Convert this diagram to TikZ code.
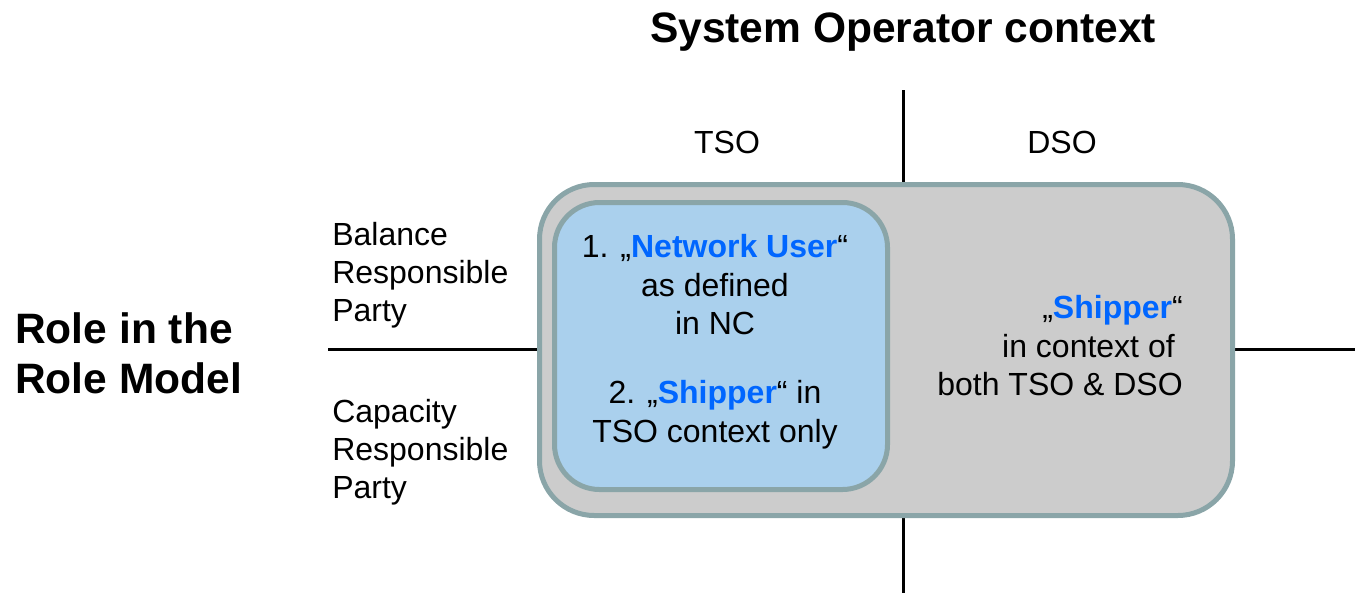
\documentclass[tikz,border=0pt]{standalone}
\usepackage{fontspec}
\setmainfont{Liberation Sans}
\definecolor{boxedge}{RGB}{138,165,168}
\definecolor{outerfill}{RGB}{204,204,204}
\definecolor{innerfill}{RGB}{170,208,237}
\definecolor{hl}{RGB}{0,102,255}
\tikzset{
  txt/.style={font=\fontsize{24}{28.5}\selectfont, inner sep=0pt, anchor=base},
  bigtxt/.style={font=\fontsize{31.9}{37}\selectfont\bfseries, inner sep=0pt, anchor=base},
  axis/.style={line width=2.25pt, black},
  outerbox/.style={draw=boxedge, line width=3.75pt, fill=outerfill, rounded corners=41pt,
    rectangle, minimum width=519.75pt, minimum height=248.25pt, inner sep=0pt},
  innerbox/.style={draw=boxedge, line width=3.75pt, fill=innerfill, rounded corners=33.75pt,
    rectangle, minimum width=249.75pt, minimum height=215.25pt, inner sep=0pt},
}
\newcommand{\hlt}[1]{\textcolor{hl}{\bfseries #1}}
\begin{document}
\begin{tikzpicture}[x=0.75pt, y=-0.75pt]
\useasboundingbox (0,0) rectangle (1355,593);
% axes
\coordinate (vtop) at (903,90);
\coordinate (vbot) at (903,593);
\coordinate (hleft) at (328,349);
\coordinate (hright) at (1355,349);
\draw[axis] (vtop) -- (vbot);
\draw[axis] (hleft) -- (hright);
% boxes
\node[outerbox] (outer) at (886,350) {};
\node[innerbox] (inner) at (721,346) {};
% title
\node[bigtxt] (title) at (903,42) {System Operator context};
\node[bigtxt, anchor=base west] (role1) at (15,343) {Role in the};
\node[bigtxt, anchor=base west] (role2) at (15,393) {Role Model};
% column heads
\node[txt] (tso) at (727,153) {TSO};
\node[txt] (dso) at (1062,153) {DSO};
% row labels
\node[txt, anchor=base west] (b1) at (332,245) {Balance};
\node[txt, anchor=base west] (b2) at (332,283) {Responsible};
\node[txt, anchor=base west] (b3) at (332,321) {Party};
\node[txt, anchor=base west] (c1) at (332,422) {Capacity};
\node[txt, anchor=base west] (c2) at (332,460) {Responsible};
\node[txt, anchor=base west] (c3) at (332,498) {Party};
% inner text
\node[txt] (i1) at (715,257) {1. „\hlt{Network User}“};
\node[txt] (i2) at (715,296) {as defined};
\node[txt] (i3) at (715,334) {in NC};
\node[txt] (i4) at (715,403) {2. „\hlt{Shipper}“ in};
\node[txt] (i5) at (715,442) {TSO context only};
% outer text
\node[txt, anchor=base east] (o1) at (1183,318) {„\hlt{Shipper}“};
\node[txt, anchor=base east] (o2) at (1175,357) {in context of};
\node[txt, anchor=base east] (o3) at (1183,395) {both TSO \& DSO};
\end{tikzpicture}
\end{document}
